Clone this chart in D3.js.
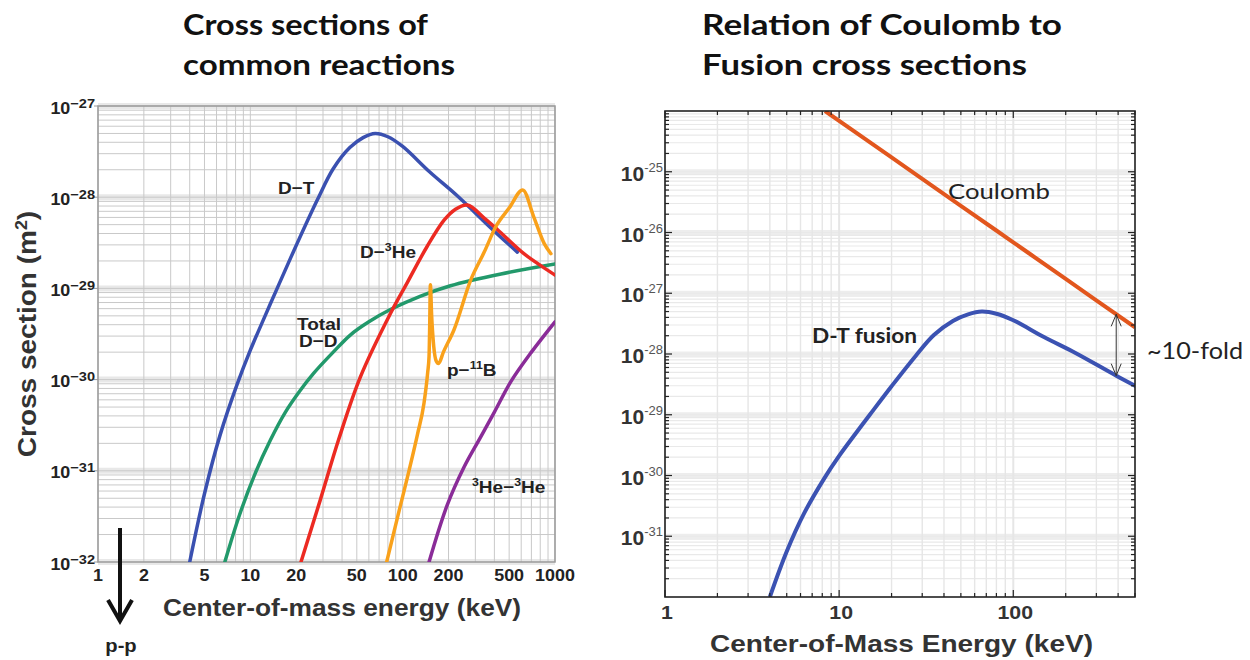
<!DOCTYPE html>
<html>
<head>
<meta charset="utf-8">
<script src="https://cdn.jsdelivr.net/npm/d3@7"></script>
<style>
  body { margin: 0; background: #fff; }
</style>
</head>
<body>
<div id="chart"></div>
<script>
// ---- Left panel data: cross section (m^2) vs centre-of-mass energy (keV) ----
const dtEnergy = [4.0, 5.0, 6.3, 8.2, 10, 12.5, 15, 20, 27.5, 35, 45, 55, 66, 80, 100, 150, 229, 390, 566];
const dtSigma  = [1e-32, 5.6e-32, 2.4e-31, 8.9e-31, 2.1e-30, 5.0e-30, 1.0e-29, 2.95e-29, 9.3e-29, 2.05e-28, 3.5e-28, 4.5e-28, 5e-28, 4.6e-28, 3.6e-28, 1.9e-28, 1.03e-28, 4.4e-29, 2.5e-29];

const dheEnergy = [21.5, 28.8, 38, 52.8, 83.6, 107, 145, 187, 220, 266, 343, 420, 625, 940, 1000];
const dheSigma  = [1e-32, 4.8e-32, 2.2e-31, 1.07e-30, 5.4e-30, 1.15e-29, 2.9e-29, 5.6e-29, 7.3e-29, 8.2e-29, 5.9e-29, 4.4e-29, 2.4e-29, 1.5e-29, 1.4e-29];

const ddEnergy = [6.8, 8.5, 10.8, 13.5, 17, 21, 26, 35, 45.5, 60, 83.6, 130, 206, 442, 1000];
const ddSigma  = [1e-32, 3.3e-32, 9.5e-32, 2.15e-31, 4.4e-31, 7.4e-31, 1.17e-30, 2.0e-30, 3.1e-30, 4.3e-30, 5.9e-30, 8.2e-30, 1.07e-29, 1.44e-29, 1.85e-29];

const pbEnergy = [78.5, 95, 110, 125, 138, 146, 149, 150.5, 152, 155, 160, 166, 172, 185, 217, 280, 343, 410, 500, 614, 725, 850, 940];
const pbSigma  = [1e-32, 3.7e-32, 1e-31, 2.5e-31, 5.5e-31, 1.2e-30, 1.8e-30, 4e-30, 1.1e-29, 5e-30, 2.3e-30, 1.6e-30, 1.5e-30, 2e-30, 3.5e-30, 1.24e-29, 2.5e-29, 4.8e-29, 7.6e-29, 1.2e-28, 6.1e-29, 3.1e-29, 2.4e-29];

const heheEnergy = [149, 196, 253, 318, 400, 513, 700, 1000];
const heheSigma  = [1e-32, 4.2e-32, 1.1e-31, 2.2e-31, 4.4e-31, 9.5e-31, 2.0e-30, 4.3e-30];

const leftTickValues = [1, 2, 5, 10, 20, 50, 100, 200, 500, 1000];
const leftDecades = [-27, -28, -29, -30, -31, -32];

// ---- Right panel data ----
const coulombEnergy = [8.3, 20, 50, 100, 200, 500];
const coulombSigma  = [1e-24, 1.72e-25, 2.75e-26, 6.9e-27, 1.72e-27, 2.75e-28];

const rightTickValues = [1, 10, 100];
const rightDecades = [-25, -26, -27, -28, -29, -30, -31];

const foldEnergy = 390;               // where the "~10-fold" arrow sits
const foldTop = 4.5e-28, foldBottom = 4.4e-29;

// ---- SVG ----
const svg = d3.select("#chart").append("svg")
    .attr("width", 1250).attr("height", 660)
    .style("font-family", "'Liberation Sans', Arial, sans-serif");

svg.append("rect").attr("width", 1250).attr("height", 660).attr("fill", "#fff");

const defs = svg.append("defs");
const isDecade = v => Math.abs(Math.log10(v) - Math.round(Math.log10(v))) < 1e-6;
const smooth = d3.curveCatmullRom.alpha(0.5);

// slightly widened text, like the source image
function stext(g, x, y, size, anchor, weight) {
    return g.append("text")
        .attr("transform", `translate(${x},${y}) scale(1.12,1)`)
        .attr("text-anchor", anchor)
        .attr("font-size", size)
        .attr("font-weight", weight || "bold")
        .attr("fill", "#222");
}

// Titles
function title(x, lines, widths) {
    lines.forEach((t, i) => {
        svg.append("text")
            .attr("x", x).attr("y", 35 + i * 40)
            .attr("font-family", "Lato, 'Open Sans', sans-serif")
            .attr("font-weight", "bold")
            .attr("font-size", 28)
            .attr("textLength", widths[i])
            .attr("lengthAdjust", "spacingAndGlyphs")
            .attr("fill", "#111")
            .text(t);
    });
}
title(183, ["Cross sections of", "common reactions"], [245, 272]);
title(702, ["Relation of Coulomb to", "Fusion cross sections"], [360, 325]);

// ================= Left panel =================
const L = { left: 98, right: 555, top: 106, bottom: 562 };
const xL = d3.scaleLog().domain([1, 1000]).range([L.left, L.right]);
const yL = d3.scaleLog().domain([1e-32, 1e-27]).range([L.bottom, L.top]);

const gL = svg.append("g");

// decade bands
gL.selectAll(".bandL").data(leftDecades).join("line")
    .attr("x1", L.left).attr("x2", L.right)
    .attr("y1", d => yL(10 ** d)).attr("y2", d => yL(10 ** d))
    .attr("stroke", "#e8e8e8").attr("stroke-width", 6);

// grid
gL.selectAll(".hgL").data(yL.ticks()).join("line")
    .attr("x1", L.left).attr("x2", L.right)
    .attr("y1", d => yL(d)).attr("y2", d => yL(d))
    .attr("stroke", "#c9c9c9").attr("stroke-width", 1);
gL.selectAll(".vgL").data(xL.ticks()).join("line")
    .attr("x1", d => xL(d)).attr("x2", d => xL(d))
    .attr("y1", L.top).attr("y2", L.bottom)
    .attr("stroke", "#c9c9c9").attr("stroke-width", 1);

gL.append("rect")
    .attr("x", L.left).attr("y", L.top)
    .attr("width", L.right - L.left).attr("height", L.bottom - L.top)
    .attr("fill", "none").attr("stroke", "#9a9a9a").attr("stroke-width", 1.5);

gL.selectAll(".tkL").data(leftDecades).join("line")
    .attr("x1", L.left - 4).attr("x2", L.left)
    .attr("y1", d => yL(10 ** d)).attr("y2", d => yL(10 ** d))
    .attr("stroke", "#9a9a9a");

defs.append("clipPath").attr("id", "clipL").append("rect")
    .attr("x", L.left).attr("y", L.top)
    .attr("width", L.right - L.left).attr("height", L.bottom - L.top);

// p-11B keeps the monotone curve so its narrow resonance doesn't overshoot
const leftSeries = [
    { e: ddEnergy,   s: ddSigma,   color: "#22996b", curve: smooth },
    { e: dtEnergy,   s: dtSigma,   color: "#3a50b0", curve: smooth },
    { e: dheEnergy,  s: dheSigma,  color: "#ec2a22", curve: smooth },
    { e: pbEnergy,   s: pbSigma,   color: "#f9a11b", curve: d3.curveMonotoneX },
    { e: heheEnergy, s: heheSigma, color: "#8a2c98", curve: smooth }
];

gL.append("g").attr("clip-path", "url(#clipL)")
    .selectAll("path").data(leftSeries).join("path")
    .attr("d", d => d3.line()
        .x(p => xL(p[0])).y(p => yL(p[1]))
        .curve(d.curve)(d3.zip(d.e, d.s)))
    .attr("fill", "none")
    .attr("stroke", d => d.color)
    .attr("stroke-width", 3.5)
    .attr("stroke-linecap", "round");

// axis labels
leftDecades.forEach(p => {
    const t = stext(svg, 95, yL(10 ** p) + 7.5, 16, "end");
    t.append("tspan").text("10");
    t.append("tspan").attr("dy", -6).attr("font-size", 13).text("\u2212" + Math.abs(p));
});
leftTickValues.forEach(v => {
    stext(svg, xL(v), 581, 16, "middle").text(v);
});

stext(svg, 342, 616, 23.5, "middle").attr("fill", "#333").text("Center-of-mass energy (keV)");

const yTitle = svg.append("text")
    .attr("transform", "translate(36,334) rotate(-90) scale(1.12,1)")
    .attr("text-anchor", "middle")
    .attr("font-size", 25).attr("font-weight", "bold").attr("fill", "#333");
yTitle.append("tspan").text("Cross section (m");
yTitle.append("tspan").attr("dy", -9).attr("font-size", 16).text("2");
yTitle.append("tspan").attr("dy", 9).text(")");

// curve labels
stext(gL, 278, 194, 17, "start").text("D\u2212T");
(function () {
    const t = stext(gL, 360, 258, 17, "start");
    t.append("tspan").text("D\u2212");
    t.append("tspan").attr("dy", -7).attr("font-size", 11).text("3");
    t.append("tspan").attr("dy", 7).text("He");
})();
stext(gL, 297, 330, 17, "start").text("Total");
stext(gL, 299, 347, 17, "start").text("D\u2212D");
(function () {
    const t = stext(gL, 447, 376, 17, "start");
    t.append("tspan").text("p\u2212");
    t.append("tspan").attr("dy", -7).attr("font-size", 11).text("11");
    t.append("tspan").attr("dy", 7).text("B");
})();
(function () {
    const t = stext(gL, 472, 493, 17, "start");
    t.append("tspan").attr("dy", -7).attr("font-size", 11).text("3");
    t.append("tspan").attr("dy", 7).text("He\u2212");
    t.append("tspan").attr("dy", -7).attr("font-size", 11).text("3");
    t.append("tspan").attr("dy", 7).text("He");
})();

// p-p arrow (off the bottom of the chart)
svg.append("line")
    .attr("x1", 120).attr("x2", 120).attr("y1", 528).attr("y2", 619)
    .attr("stroke", "#111").attr("stroke-width", 4);
svg.append("polyline")
    .attr("points", "108,600 120,621 132,600")
    .attr("fill", "none").attr("stroke", "#111").attr("stroke-width", 4)
    .attr("stroke-linejoin", "miter");
stext(svg, 121, 652, 18, "middle").text("p-p");

// ================= Right panel =================
const R = { left: 665, right: 1135, top: 111, bottom: 597 };
const xR = d3.scaleLog().domain([1, 500]).range([R.left, R.right]);
const yR = d3.scaleLog().domain([1e-32, 1e-24]).range([R.bottom, R.top]);

const gR = svg.append("g");

gR.selectAll(".bandR").data(d3.range(-31, -24)).join("line")
    .attr("x1", R.left).attr("x2", R.right)
    .attr("y1", d => yR(10 ** d)).attr("y2", d => yR(10 ** d))
    .attr("stroke", "#ededed").attr("stroke-width", 5);
gR.selectAll(".hgR").data(yR.ticks()).join("line")
    .attr("x1", R.left).attr("x2", R.right)
    .attr("y1", d => yR(d)).attr("y2", d => yR(d))
    .attr("stroke", "#e9e9e9").attr("stroke-width", 1.2);
gR.selectAll(".vgR").data(xR.ticks()).join("line")
    .attr("x1", d => xR(d)).attr("x2", d => xR(d))
    .attr("y1", R.top).attr("y2", R.bottom)
    .attr("stroke", "#e6e6e6").attr("stroke-width", d => isDecade(d) ? 2 : 1.4);

defs.append("clipPath").attr("id", "clipR").append("rect")
    .attr("x", R.left).attr("y", R.top)
    .attr("width", R.right - R.left).attr("height", R.bottom - R.top);

const lineR = d3.line()
    .x(d => xR(d[0])).y(d => yR(d[1]))
    .curve(smooth);

const rightSeries = [
    { e: coulombEnergy, s: coulombSigma, color: "#e2561d" },
    { e: dtEnergy,      s: dtSigma,      color: "#3b52b2" }
];
gR.append("g").attr("clip-path", "url(#clipR)")
    .selectAll("path").data(rightSeries).join("path")
    .attr("d", d => lineR(d3.zip(d.e, d.s)))
    .attr("fill", "none")
    .attr("stroke", d => d.color)
    .attr("stroke-width", 4);

// frame and inward ticks
gR.append("rect")
    .attr("x", R.left).attr("y", R.top)
    .attr("width", R.right - R.left).attr("height", R.bottom - R.top)
    .attr("fill", "none").attr("stroke", "#222").attr("stroke-width", 1.6);

const tickLen = v => isDecade(v) ? 7 : 4;
const ticksY = yR.ticks();
const ticksX = xR.ticks();
gR.selectAll(".tyl").data(ticksY).join("line")
    .attr("x1", R.left).attr("x2", d => R.left + tickLen(d))
    .attr("y1", d => yR(d)).attr("y2", d => yR(d))
    .attr("stroke", "#222").attr("stroke-width", 1.2);
gR.selectAll(".tyr").data(ticksY).join("line")
    .attr("x1", R.right).attr("x2", d => R.right - tickLen(d))
    .attr("y1", d => yR(d)).attr("y2", d => yR(d))
    .attr("stroke", "#222").attr("stroke-width", 1.2);
gR.selectAll(".txb").data(ticksX).join("line")
    .attr("x1", d => xR(d)).attr("x2", d => xR(d))
    .attr("y1", R.bottom).attr("y2", d => R.bottom - tickLen(d))
    .attr("stroke", "#222").attr("stroke-width", 1.2);
gR.selectAll(".txt").data(ticksX).join("line")
    .attr("x1", d => xR(d)).attr("x2", d => xR(d))
    .attr("y1", R.top).attr("y2", d => R.top + tickLen(d))
    .attr("stroke", "#222").attr("stroke-width", 1.2);

// tick labels
rightDecades.forEach(p => {
    const t = svg.append("text")
        .attr("x", 663).attr("y", yR(10 ** p) + 9)
        .attr("text-anchor", "end")
        .attr("font-size", 21).attr("font-weight", "bold").attr("fill", "#333");
    t.append("tspan").text("10");
    t.append("tspan").attr("dy", -9).attr("font-size", 13)
        .attr("font-weight", "normal").attr("fill", "#555").text("-" + Math.abs(p));
});
rightTickValues.forEach(v => {
    stext(svg, xR(v) + 2, 619, 19, "middle").attr("fill", "#333").text(v);
});
svg.append("text")
    .attr("x", 710).attr("y", 652)
    .attr("font-size", 24).attr("font-weight", "bold").attr("fill", "#333")
    .attr("textLength", 383).attr("lengthAdjust", "spacingAndGlyphs")
    .text("Center-of-Mass Energy (keV)");

// annotations
const calibri = "Lato, 'Open Sans', sans-serif";
svg.append("text")
    .attr("x", 948).attr("y", 199)
    .attr("font-family", calibri).attr("font-size", 22).attr("fill", "#222")
    .attr("textLength", 102).attr("lengthAdjust", "spacingAndGlyphs")
    .text("Coulomb");
svg.append("text")
    .attr("x", 812).attr("y", 343)
    .attr("font-family", calibri).attr("font-size", 20).attr("font-weight", "bold").attr("fill", "#222")
    .attr("textLength", 105).attr("lengthAdjust", "spacingAndGlyphs")
    .text("D-T fusion");
svg.append("text")
    .attr("x", 1147).attr("y", 359)
    .attr("font-family", calibri).attr("font-size", 24).attr("fill", "#222")
    .attr("textLength", 96).attr("lengthAdjust", "spacingAndGlyphs")
    .text("~10-fold");

const ax = xR(foldEnergy), ay1 = yR(foldTop), ay2 = yR(foldBottom);
svg.append("line")
    .attr("x1", ax).attr("x2", ax).attr("y1", ay1).attr("y2", ay2)
    .attr("stroke", "#333").attr("stroke-width", 1);
svg.append("polyline")
    .attr("points", `${ax - 5},${ay1 + 12} ${ax},${ay1} ${ax + 5},${ay1 + 12}`)
    .attr("fill", "none").attr("stroke", "#333").attr("stroke-width", 1);
svg.append("polyline")
    .attr("points", `${ax - 5},${ay2 - 12} ${ax},${ay2} ${ax + 5},${ay2 - 12}`)
    .attr("fill", "none").attr("stroke", "#333").attr("stroke-width", 1);
</script>
</body>
</html>
